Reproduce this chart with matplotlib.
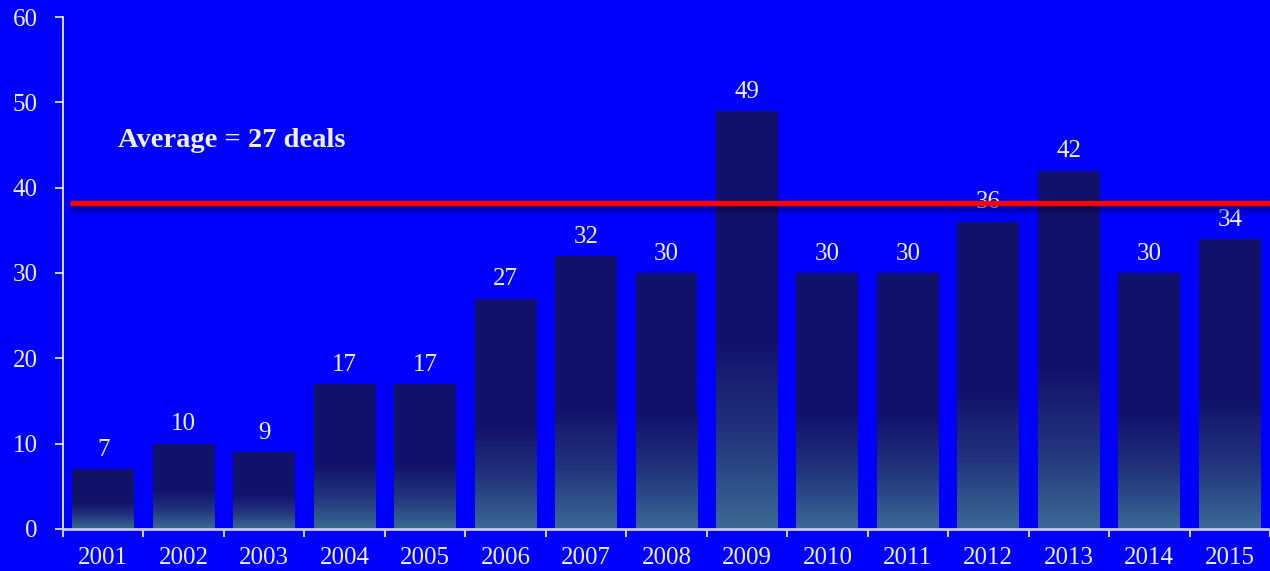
import matplotlib.pyplot as plt
import matplotlib.patheffects as pe
from matplotlib.colors import LinearSegmentedColormap
import numpy as np

years = ["2001", "2002", "2003", "2004", "2005", "2006", "2007", "2008",
         "2009", "2010", "2011", "2012", "2013", "2014", "2015"]
deals = [7, 10, 9, 17, 17, 27, 32, 30, 49, 30, 30, 36, 42, 30, 34]
avg_line = 38.2
avg_text = "Average = 27 deals"

bg = "#0000ff"
bar_top = "#11116a"
bar_bottom = "#3b6a94"
txt = "#f0f0ff"

plt.rcParams["font.family"] = ["Liberation Serif", "DejaVu Serif"]

fig = plt.figure(figsize=(12.7, 5.71), dpi=100)
fig.patch.set_facecolor(bg)
ax = fig.add_axes([0.0496, 0.0736, 0.9504, 0.8966])
ax.set_facecolor(bg)

x = np.arange(len(years))
bars = ax.bar(x, deals, width=0.77, color=bar_top, zorder=2)

# fade the lower part of each bar into a lighter steel blue
grad = LinearSegmentedColormap.from_list("fade", [bar_bottom, "#22347c", bar_top])
ramp = np.linspace(0, 1, 256).reshape(-1, 1)
for b in bars:
    x0, w, h = b.get_x(), b.get_width(), b.get_height()
    ax.imshow(ramp, cmap=grad, origin="lower", aspect="auto",
              extent=[x0, x0 + w, 0, h * 0.45], zorder=3, interpolation="bilinear")

for xi, v in zip(x, deals):
    ax.annotate(str(v), (xi, v), xytext=(0, 6), textcoords="offset points",
                ha="center", va="bottom", color=txt, fontsize=18, zorder=4)

# average line with a soft shadow underneath
shadow = [pe.SimpleLineShadow(offset=(0, -d), shadow_color="#000030", alpha=0.13)
          for d in (1.5, 2.5, 3.5, 4.5, 5.5)]
ax.plot([-0.41, 14.6], [avg_line, avg_line], color="#ff0000", lw=3.8, zorder=5,
        solid_capstyle="butt", clip_on=True,
        path_effects=shadow + [pe.Normal()])

ax.text(0.18, 45.5, avg_text, color=txt, fontsize=20.5, fontweight="bold",
        ha="left", va="center", zorder=6)

ax.set_xlim(-0.5, 14.5)
ax.set_ylim(0, 60)
ax.set_yticks([0, 10, 20, 30, 40, 50, 60])
ax.set_xticks(x)
ax.set_xticklabels(years)
ax.set_xticks(np.arange(-0.5, 15, 1), minor=True)

ax.tick_params(axis="y", colors=txt, labelsize=18, length=6, width=1.2, pad=12,
               direction="out")
ax.tick_params(axis="x", which="major", colors=txt, labelsize=18, length=0, pad=13)
ax.tick_params(axis="x", which="minor", color="#d0d0f0", length=6, width=1.5,
               direction="out")

for s in ["top", "right"]:
    ax.spines[s].set_visible(False)
ax.spines["left"].set_color("#ffffff")
ax.spines["left"].set_linewidth(1.2)
ax.spines["bottom"].set_color("#c8c8e8")
ax.spines["bottom"].set_linewidth(2)
ax.spines["bottom"].set_zorder(7)

fig.savefig("out.png", dpi=100, facecolor=bg)
